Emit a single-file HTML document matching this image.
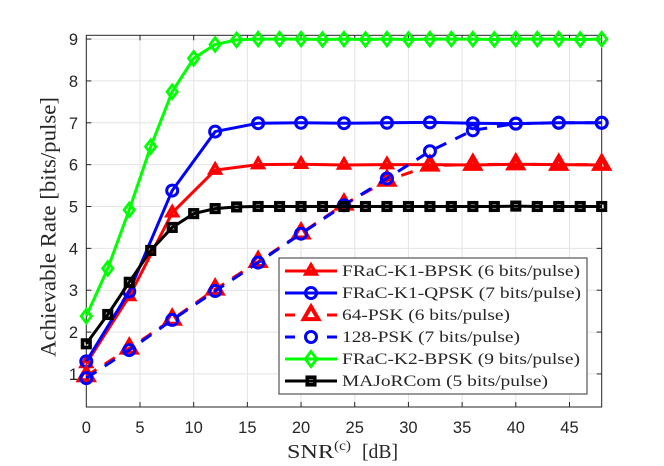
<!DOCTYPE html>
<html>
<head>
<meta charset="utf-8">
<title>Achievable Rate vs SNR</title>
<style>
html,body{margin:0;padding:0;background:#fff;}
svg{display:block;filter:blur(0.3px);}
text{font-family:"Liberation Sans",sans-serif;}
.tick{font-size:16.5px;fill:#262626;}
.serif{font-family:"Liberation Serif",serif;fill:#262626;}
</style>
</head>
<body>
<svg id="chart" xmlns="http://www.w3.org/2000/svg" width="664" height="466" viewBox="0 0 664 466">
  <rect x="0" y="0" width="664" height="466" fill="#ffffff"/>
  <g id="grid"></g>
  <g id="ticks"></g>
  <rect x="86.3" y="35.3" width="515.4" height="371.7" fill="none" stroke="#262626" stroke-width="1"/>
  <g id="series"></g>
  <text class="serif" font-size="22" transform="translate(55.5,227) rotate(-90)" text-anchor="middle" textLength="260" lengthAdjust="spacingAndGlyphs">Achievable Rate [bits/pulse]</text>
  <g>
    <text class="serif" x="287" y="458" font-size="20.5" textLength="47" lengthAdjust="spacingAndGlyphs">SNR</text>
    <text class="serif" x="334" y="450" font-size="14" textLength="17" lengthAdjust="spacingAndGlyphs">(c)</text>
    <text class="serif" x="362" y="458" font-size="20.5" textLength="36" lengthAdjust="spacingAndGlyphs">[dB]</text>
  </g>
  <g id="legend">
    <rect x="279" y="258" width="308" height="136" fill="#ffffff" stroke="#555555" stroke-width="1.2"/>
  </g>
</svg>
<script>
var snrCoarse = [0, 4, 8, 12, 16, 20, 24, 28, 32, 36, 40, 44, 48];
var snrFine = [0, 2, 4, 6, 8, 10, 12, 14, 16, 18, 20, 22, 24, 26, 28, 30, 32, 34, 36, 38, 40, 42, 44, 46, 48];
var k1Bpsk = [1.25, 2.85, 4.85, 5.87, 6.0, 6.01, 5.99, 6.0, 6.0, 5.99, 6.01, 6.0, 5.99];
var k1Qpsk = [1.3, 2.97, 5.38, 6.79, 6.99, 7.0, 6.99, 7.0, 7.01, 6.99, 6.98, 7.0, 7.0];
var psk64 = [0.95, 1.61, 2.3, 3.02, 3.68, 4.36, 5.05, 5.62, 5.98, 6.0, 6.01, 6.0, 6.0];
var psk128 = [0.9, 1.57, 2.29, 2.98, 3.66, 4.35, 5.03, 5.67, 6.32, 6.82, 6.98, 7.0, 7.0];
var k2Bpsk = [2.38, 3.52, 4.92, 6.43, 7.74, 8.54, 8.87, 8.98, 9.0, 9.0, 9.0, 8.99, 9.0, 8.99, 9.0, 8.99, 9.0, 9.0, 9.0, 8.99, 9.0, 9.0, 9.0, 8.99, 9.0];
var majorcom = [1.72, 2.42, 3.19, 3.95, 4.5, 4.83, 4.95, 4.99, 5.0, 5.0, 5.0, 5.0, 5.0, 5.0, 5.0, 5.0, 5.0, 5.0, 5.0, 5.0, 5.01, 5.0, 5.0, 5.0, 5.0];
var xTickValues = [0, 5, 10, 15, 20, 25, 30, 35, 40, 45];
var yTickValues = [1, 2, 3, 4, 5, 6, 7, 8, 9];
var legendLabels = ['FRaC-K1-BPSK (6 bits/pulse)', 'FRaC-K1-QPSK (7 bits/pulse)', '64-PSK (6 bits/pulse)', '128-PSK (7 bits/pulse)', 'FRaC-K2-BPSK (9 bits/pulse)', 'MAJoRCom (5 bits/pulse)'];

var NS = 'http://www.w3.org/2000/svg';
var plotLeft = 86.3, plotRight = 601.7, plotTop = 35.3, plotBottom = 407;
var xMin = 0, xMax = 48, yMin = 0.21, yMax = 9.09;
function sx(v) { return plotLeft + (v - xMin) / (xMax - xMin) * (plotRight - plotLeft); }
function sy(v) { return plotBottom - (v - yMin) / (yMax - yMin) * (plotBottom - plotTop); }
function make(tag, parent, attrs) {
  var el = document.createElementNS(NS, tag);
  for (var k in attrs) { el.setAttribute(k, attrs[k]); }
  parent.appendChild(el);
  return el;
}
var grid = document.getElementById('grid');
var ticks = document.getElementById('ticks');
xTickValues.forEach(function (v) {
  var g = make('line', grid, { x1: sx(v), x2: sx(v), y1: plotTop, y2: plotBottom, stroke: '#e4e4e4', 'stroke-width': 1 });
  
  
  if (v === 0) { return; }
  var t1 = make('line', ticks, { x1: sx(v), x2: sx(v), y1: plotBottom, y2: plotBottom - 5, stroke: '#262626', 'stroke-width': 1 });
  
  
  var t2 = make('line', ticks, { x1: sx(v), x2: sx(v), y1: plotTop, y2: plotTop + 5, stroke: '#262626', 'stroke-width': 1 });
  
  
});
xTickValues.forEach(function (v) {
  var l = make('text', ticks, { x: sx(v), y: 433, 'text-anchor': 'middle', 'class': 'tick' });
  
  
  l.textContent = String(v);
});
yTickValues.forEach(function (v) {
  var g = make('line', grid, { x1: plotLeft, x2: plotRight, y1: sy(v), y2: sy(v), stroke: '#e4e4e4', 'stroke-width': 1 });
  
  
  var t1 = make('line', ticks, { x1: plotLeft, x2: plotLeft + 5, y1: sy(v), y2: sy(v), stroke: '#262626', 'stroke-width': 1 });
  
  
  var t2 = make('line', ticks, { x1: plotRight, x2: plotRight - 5, y1: sy(v), y2: sy(v), stroke: '#262626', 'stroke-width': 1 });
  
  
  var l = make('text', ticks, { x: 78, y: sy(v) + 6, 'text-anchor': 'end', 'class': 'tick' });
  
  
  l.textContent = String(v);
});

function drawMarker(parent, kind, cx, cy, size, color, sw) {
  var el;
  if (kind === 'triangle') {
    var r = size / Math.sqrt(3);
    el = make('polygon', parent, {
      points: (cx - size / 2) + ',' + (cy + r / 2) + ' ' + (cx + size / 2) + ',' + (cy + r / 2) + ' ' + cx + ',' + (cy - r),
      fill: 'none', stroke: color, 'stroke-width': sw, 'stroke-linejoin': 'miter', 'stroke-miterlimit': 4
    });
  } else if (kind === 'circle') {
    el = make('circle', parent, { cx: cx, cy: cy, r: size / 2, fill: 'none', stroke: color, 'stroke-width': sw });
  } else if (kind === 'diamond') {
    var dw = size * 0.76, dh = size;
    el = make('polygon', parent, {
      points: cx + ',' + (cy - dh / 2) + ' ' + (cx + dw / 2) + ',' + cy + ' ' + cx + ',' + (cy + dh / 2) + ' ' + (cx - dw / 2) + ',' + cy,
      fill: 'none', stroke: color, 'stroke-width': sw
    });
  } else {
    el = make('rect', parent, { x: cx - size / 2, y: cy - size / 2, width: size, height: size, fill: 'none', stroke: color, 'stroke-width': sw });
  }
  
  
}

var seriesGroup = document.getElementById('series');
function drawSeries(name, xs, ys, color, dash, kind, size, sw) {
  var g = make('g', seriesGroup, {});
  
  
  var pts = xs.map(function (x, i) { return sx(x) + ',' + sy(ys[i]); }).join(' ');
  var attrs = { points: pts, fill: 'none', stroke: color, 'stroke-width': 3, 'stroke-linejoin': 'round' };
  if (dash) { attrs['stroke-dasharray'] = dash; }
  var line = make('polyline', g, attrs);
  
  
  xs.forEach(function (x, i) { drawMarker(g, kind, sx(x), sy(ys[i]), size, color, sw); });
}
drawSeries('series-frac-k1-bpsk', snrCoarse, k1Bpsk, '#ff0000', null, 'triangle', 10.5, 3.4);
drawSeries('series-frac-k1-qpsk', snrCoarse, k1Qpsk, '#0000ff', null, 'circle', 11, 3);
drawSeries('series-64-psk', snrCoarse, psk64, '#ff0000', '12 10', 'triangle', 14.5, 4);
drawSeries('series-128-psk', snrCoarse, psk128, '#0000ff', '12 10', 'circle', 11, 3);
drawSeries('series-frac-k2-bpsk', snrFine, k2Bpsk, '#00ff00', null, 'diamond', 13.5, 2.8);
drawSeries('series-majorcom', snrFine, majorcom, '#000000', null, 'square', 7.5, 3.6);

var legend = document.getElementById('legend');
var legendStyles = [
  ['#ff0000', null, 'triangle', 10.5, 3.4, 238],
  ['#0000ff', null, 'circle', 11, 3, 239],
  ['#ff0000', '10 32 10', 'triangle', 14.5, 4, 168],
  ['#0000ff', '10 32 10', 'circle', 11, 3, 178],
  ['#00ff00', null, 'diamond', 15, 2.8, 238],
  ['#000000', null, 'square', 7.5, 3.6, 206]
];
legendLabels.forEach(function (label, i) {
  var st = legendStyles[i];
  var y = 271 + i * 22;
  var g = make('g', legend, {});
  
  
  var attrs = { x1: 285, x2: 337, y1: y, y2: y, stroke: st[0], 'stroke-width': 3 };
  if (st[1]) { attrs['stroke-dasharray'] = st[1]; }
  var ln = make('line', g, attrs);
  
  
  drawMarker(g, st[2], 311, y, st[3], st[0], st[4]);
  var t = make('text', g, { x: 342, y: y + 5, 'class': 'serif', 'font-size': 15.5, textLength: st[5], lengthAdjust: 'spacingAndGlyphs' });
  
  
  t.textContent = label;
});
</script>
</body>
</html>
